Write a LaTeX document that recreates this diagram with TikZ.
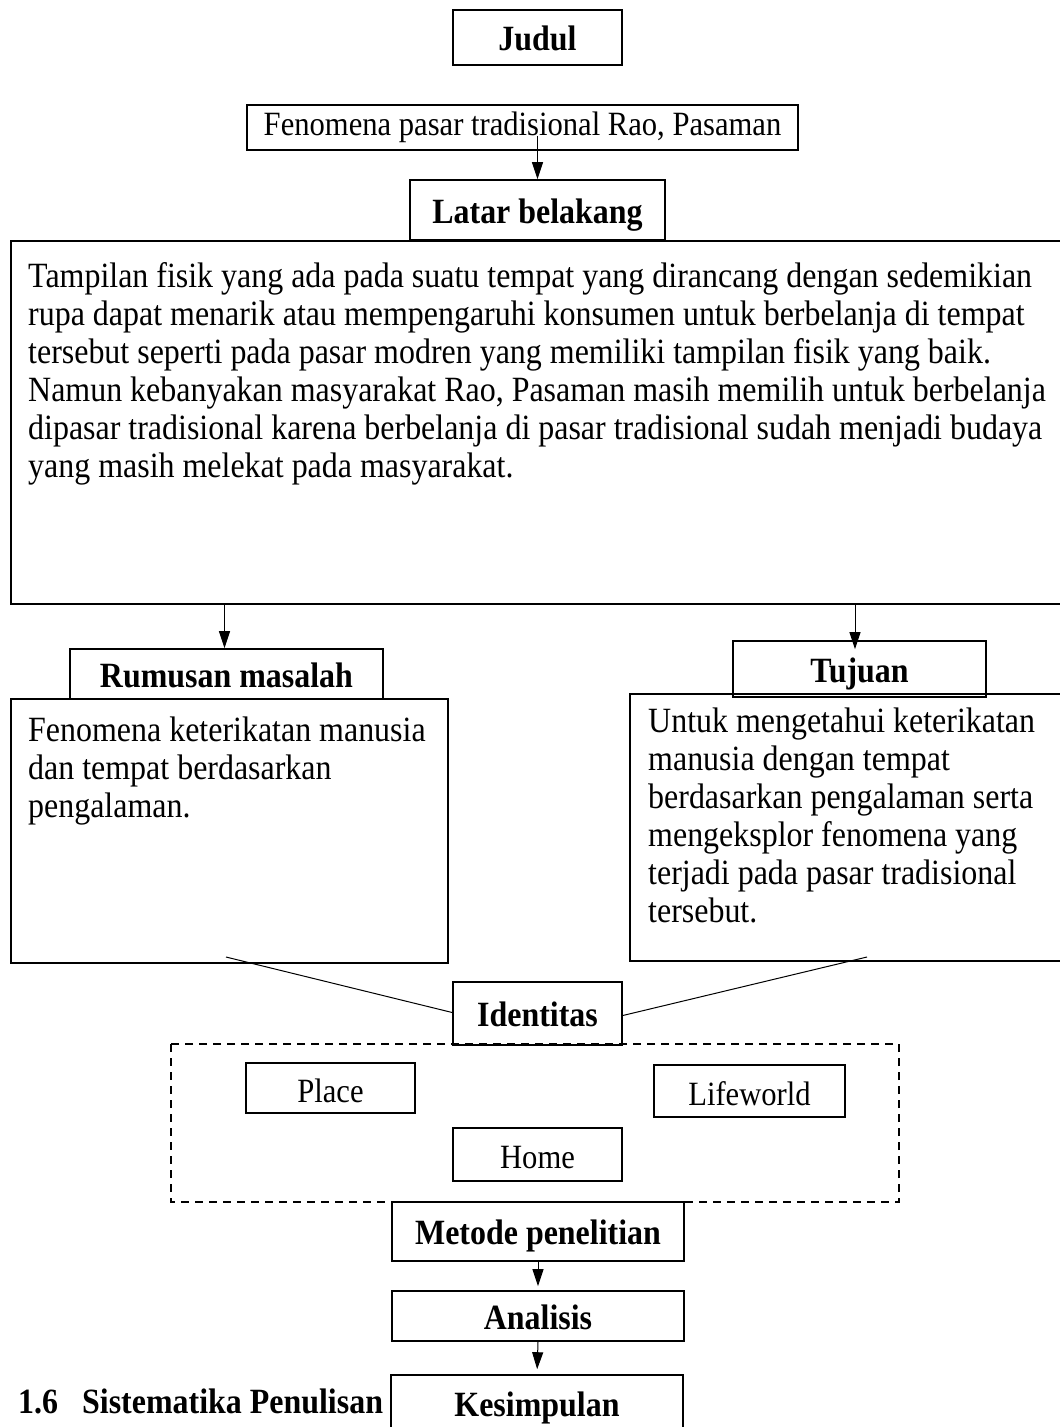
\documentclass[tikz,border=0pt]{standalone}
\usepackage{fontspec}
\setmainfont{Liberation Serif}[FakeStretch=0.9]
\usetikzlibrary{arrows.meta}

\begin{document}
\begin{tikzpicture}[x=1pt, y=-1pt, font=\fontsize{35.5}{38}\selectfont,
    box/.style={draw, line width=1.6pt, inner sep=0pt},
    labelbox/.style={box, font=\fontsize{34}{38}\selectfont, text height=28pt, text depth=0pt},
    judulbox/.style={box, font=\fontsize{35.5}{38}\selectfont\bfseries, text height=26pt, text depth=0pt},
    teks/.style={align=left, inner sep=0pt},
    arr/.style={-{Triangle[width=11pt,length=17pt]}, line width=1pt}]
    \useasboundingbox (0,0) rectangle (1060,1427);

    % --- JUDUL DAN LATAR BELAKANG ---
    \node[judulbox, minimum width=169pt, minimum height=55pt] (judul) at (537.5,37.5) {Judul};
    \node[box, font=\fontsize{34}{38}\selectfont, minimum width=551pt, minimum height=45pt] (fenomena) at (522.5,127.5) {Fenomena pasar tradisional Rao, Pasaman};
    \node[judulbox, minimum width=255pt, minimum height=60pt] (latar) at (537.5,210) {Latar belakang};

    % Kotak isi latar belakang (sisi kanan keluar halaman)
    \node[box, anchor=north west, minimum width=1065pt, minimum height=363pt] (latarisi) at (10,240) {};
    \node[teks, anchor=north west] (latarteks) at (28,262) {Tampilan fisik yang ada pada suatu tempat yang dirancang dengan sedemikian\\
        rupa dapat menarik atau mempengaruhi konsumen untuk berbelanja di tempat\\
        tersebut seperti pada pasar modren yang memiliki tampilan fisik yang baik.\\
        Namun kebanyakan masyarakat Rao, Pasaman masih memilih untuk berbelanja\\
        dipasar tradisional karena berbelanja di pasar tradisional sudah menjadi budaya\\
        yang masih melekat pada masyarakat.};

    \draw[arr] ([yshift=-8pt]latar.north |- fenomena.center) -- (latar.north);

    % --- RUMUSAN MASALAH ---
    \node[judulbox, minimum width=313pt, minimum height=50pt] (rumusan) at (226.5,674) {Rumusan masalah};
    \node[box, anchor=north west, minimum width=437pt, minimum height=264pt] (rumusanisi) at (10,698) {};
    \node[teks, anchor=north west] (rumusanteks) at (28,717) {Fenomena keterikatan manusia\\
        dan tempat berdasarkan\\
        pengalaman.};

    % --- TUJUAN ---
    \node[box, anchor=north west, minimum width=446pt, minimum height=267pt] (tujuanisi) at (629,693) {};
    \node[judulbox, minimum width=253pt, minimum height=56pt] (tujuan) at (859.5,669) {Tujuan};
    \node[teks, anchor=north west] (tujuanteks) at (648,708) {Untuk mengetahui keterikatan\\
        manusia dengan tempat\\
        berdasarkan pengalaman serta\\
        mengeksplor fenomena yang\\
        terjadi pada pasar tradisional\\
        tersebut.};

    \draw[arr] ([xshift=-2pt]rumusan.north |- latarisi.south) -- ([xshift=-2pt]rumusan.north);
    \draw[arr] ([xshift=-4.5pt]tujuan.north |- latarisi.south) -- ([xshift=-4.5pt,yshift=-9pt]tujuan.north);

    % --- IDENTITAS ---
    \node[judulbox, minimum width=169pt, minimum height=63pt] (identitas) at (537.5,1013.5) {Identitas};
    \coordinate (ki) at (226,957);
    \coordinate (ka) at (867,957);
    \draw[line width=1pt] (ki) -- ([yshift=1pt]identitas.west);
    \draw[line width=1pt] (ka) -- ([yshift=-2pt]identitas.east);

    % Kotak putus-putus
    \draw[line width=1.6pt, dash pattern=on 8pt off 6pt] (171,1044) rectangle (899,1202);
    \node[labelbox, minimum width=169pt, minimum height=50pt] (place) at (330.5,1088) {Place};
    \node[labelbox, minimum width=191pt, minimum height=52pt] (lifeworld) at (749.5,1091) {Lifeworld};
    \node[labelbox, minimum width=169pt, minimum height=53pt] (home) at (537.5,1154.5) {Home};

    % --- METODE, ANALISIS, KESIMPULAN ---
    \node[judulbox, minimum width=292pt, minimum height=59pt] (metode) at (538,1231.5) {Metode penelitian};
    \node[judulbox, minimum width=292pt, minimum height=50pt] (analisis) at (538,1316) {Analisis};
    \node[judulbox, minimum width=292pt, minimum height=56pt] (kesimpulan) at (537,1403) {Kesimpulan};
    \draw[arr, shorten >=4pt] (metode.south) -- (analisis.north);
    \draw[arr, shorten >=5pt] (analisis.south) -- (kesimpulan.north);

    \node[anchor=base west, inner sep=0pt, font=\fontsize{35.5}{38}\selectfont\bfseries] (subbab) at (18,1413) {1.6\hspace{24pt}Sistematika Penulisan};
\end{tikzpicture}
\end{document}
